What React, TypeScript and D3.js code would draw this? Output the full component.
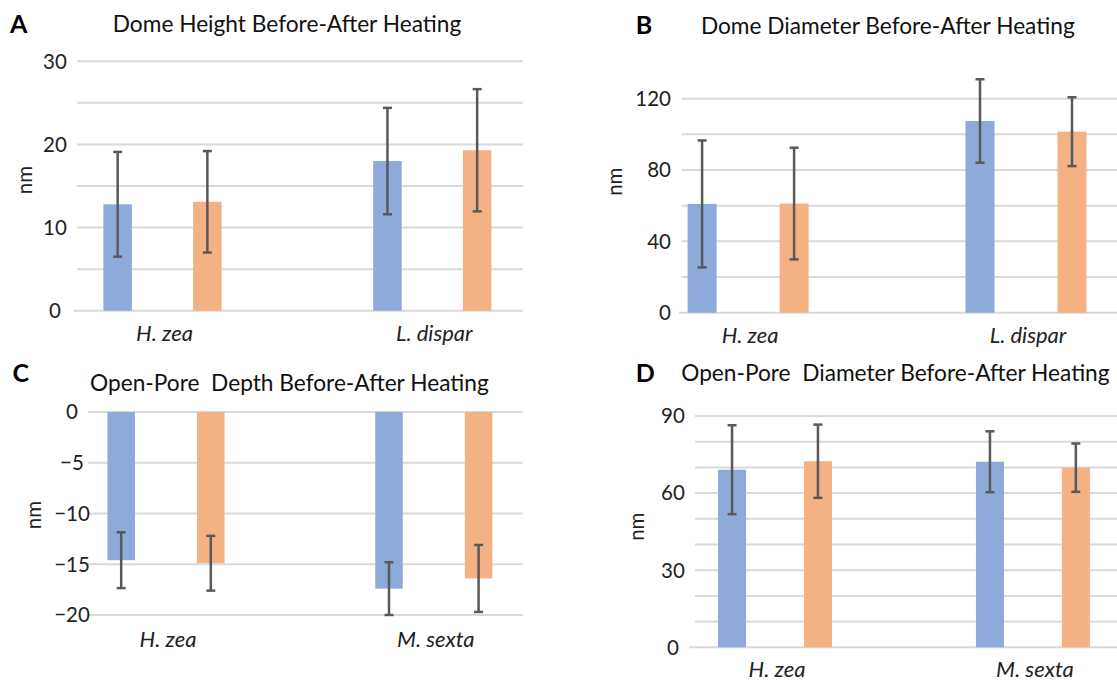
import React from 'react';
import * as d3 from 'd3';

// ---------- data ----------
const panelLetters = ['A', 'B', 'C', 'D'];
const panelTitles = [
  'Dome Height Before-After Heating',
  'Dome Diameter Before-After Heating',
  'Open-Pore\u00a0 Depth Before-After Heating',
  'Open-Pore\u00a0 Diameter Before-After Heating',
];
const categoriesDome = ['H. zea', 'L. dispar'];
const categoriesPore = ['H. zea', 'M. sexta'];
const seriesNames = ['Before', 'After'];
const yAxisLabel = 'nm';

const domeHeightBefore = [12.8, 18.0];
const domeHeightAfter = [13.1, 19.3];
const domeHeightBeforeErr = [6.3, 6.4];
const domeHeightAfterErr = [6.1, 7.35];

const domeDiameterBefore = [61.0, 107.5];
const domeDiameterAfter = [61.2, 101.5];
const domeDiameterBeforeErr = [35.6, 23.4];
const domeDiameterAfterErr = [31.3, 19.3];

const poreDepthBefore = [-14.6, -17.4];
const poreDepthAfter = [-14.9, -16.4];
const poreDepthBeforeErr = [2.75, 2.6];
const poreDepthAfterErr = [2.7, 3.3];

const poreDiameterBefore = [69.1, 72.2];
const poreDiameterAfter = [72.4, 69.9];
const poreDiameterBeforeErr = [17.3, 11.85];
const poreDiameterAfterErr = [14.25, 9.4];

const ticksA = [0, 10, 20, 30];
const ticksB = [0, 40, 80, 120];
const ticksC = [-20, -15, -10, -5, 0];
const ticksD = [0, 30, 60, 90];

// ---------- styling / layout ----------
const COLORS = ['#8eaadb', '#f4b183'];
const GRID = '#d9d9d9';
const ERR = '#595959';
const FONT = 'Lato, "Open Sans", sans-serif';

type Layout = {
  domain: [number, number];
  yRange: [number, number];
  gridStep: number;
  labelTicks: number[];
  gridX: [number, number];
  zeroX0: number;
  firstCenter: number;
  step: number;
  inner: number;
  barW: number;
  tickX: number;
  tickAnchor: 'middle' | 'end';
  titleX: number;
  titleY: number;
  letterX: number;
  letterY: number;
  nmX: number;
  nmY: number;
  catY: number;
};

const panels = [
  {
    cats: categoriesDome,
    values: [domeHeightBefore, domeHeightAfter],
    errs: [domeHeightBeforeErr, domeHeightAfterErr],
    layout: {
      domain: [0, 30], yRange: [310.7, 61.3], gridStep: 5, labelTicks: ticksA,
      gridX: [77, 523], zeroX0: 74, firstCenter: 162.5, step: 269.8, inner: 89.7, barW: 28.5,
      tickX: 55, tickAnchor: 'middle', titleX: 287, titleY: 24, letterX: 10, letterY: 24,
      nmX: 25, nmY: 180, catY: 333,
    } as Layout,
  },
  {
    cats: categoriesDome,
    values: [domeDiameterBefore, domeDiameterAfter],
    errs: [domeDiameterBeforeErr, domeDiameterAfterErr],
    layout: {
      domain: [0, 120], yRange: [312.7, 98.7], gridStep: 20, labelTicks: ticksB,
      gridX: [681.5, 1117], zeroX0: 679, firstCenter: 748.1, step: 277.9, inner: 92, barW: 29,
      tickX: 671, tickAnchor: 'end', titleX: 887.8, titleY: 26, letterX: 635.7, letterY: 24.5,
      nmX: 615, nmY: 181.7, catY: 335,
    } as Layout,
  },
  {
    cats: categoriesPore,
    values: [poreDepthBefore, poreDepthAfter],
    errs: [poreDepthBeforeErr, poreDepthAfterErr],
    layout: {
      domain: [-20, 0], yRange: [615, 412], gridStep: 5, labelTicks: ticksC,
      gridX: [88, 522.6], zeroX0: 88, firstCenter: 166, step: 267.8, inner: 89.6, barW: 27.5,
      tickX: 72, tickAnchor: 'middle', titleX: 289.4, titleY: 382.5, letterX: 12.5, letterY: 373.3,
      nmX: 34, nmY: 515, catY: 639.5,
    } as Layout,
  },
  {
    cats: categoriesPore,
    values: [poreDiameterBefore, poreDiameterAfter],
    errs: [poreDiameterBeforeErr, poreDiameterAfterErr],
    layout: {
      domain: [0, 90], yRange: [647.3, 416], gridStep: 10, labelTicks: ticksD,
      gridX: [695, 1117], zeroX0: 689, firstCenter: 775, step: 257.9, inner: 85.9, barW: 28,
      tickX: 673, tickAnchor: 'middle', titleX: 895.4, titleY: 372.7, letterX: 635.7, letterY: 373,
      nmX: 636.4, nmY: 526.7, catY: 669,
    } as Layout,
  },
];

function fmt(v: number) {
  return v < 0 ? '\u2212' + Math.abs(v) : String(v);
}

function Panel({ idx }: { idx: number }) {
  const p = panels[idx];
  const L = p.layout;
  const y = d3.scaleLinear().domain(L.domain).range(L.yRange);
  const x = d3
    .scaleBand<string>()
    .domain(p.cats)
    .range([L.firstCenter - L.step / 2, L.firstCenter - L.step / 2 + L.step * p.cats.length])
    .padding(0);
  const xs = d3.scalePoint<string>().domain(seriesNames).range([-L.inner / 2, L.inner / 2]);
  const gridVals = d3.range(L.domain[0], L.domain[1] + 0.001, L.gridStep);
  const zero = y(0);
  const capW = 9;

  return (
    <g>
      {gridVals.map((v) => (
        <line
          key={'g' + v}
          x1={v === 0 ? L.zeroX0 : L.gridX[0]}
          x2={L.gridX[1]}
          y1={y(v)}
          y2={y(v)}
          stroke={GRID}
          strokeWidth={2}
        />
      ))}
      {L.labelTicks.map((v) => (
        <text
          key={'t' + v}
          x={L.tickX}
          y={y(v)}
          dy="0.36em"
          textAnchor={L.tickAnchor}
          fontFamily={FONT}
          fontSize={20.5}
          fill="#222"
        >
          {fmt(v)}
        </text>
      ))}
      {p.cats.map((c, ci) =>
        seriesNames.map((s, si) => {
          const cx = (x(c) as number) + x.bandwidth() / 2 + (xs(s) as number);
          const v = p.values[si][ci];
          const e = p.errs[si][ci];
          const top = Math.min(y(v), zero);
          const h = Math.abs(y(v) - zero);
          return (
            <g key={c + s}>
              <rect x={cx - L.barW / 2} y={top} width={L.barW} height={h} fill={COLORS[si]} />
              <line x1={cx} x2={cx} y1={y(v + e)} y2={y(v - e)} stroke={ERR} strokeWidth={2.5} />
              <line x1={cx - capW / 2} x2={cx + capW / 2} y1={y(v + e)} y2={y(v + e)} stroke={ERR} strokeWidth={2.5} />
              <line x1={cx - capW / 2} x2={cx + capW / 2} y1={y(v - e)} y2={y(v - e)} stroke={ERR} strokeWidth={2.5} />
            </g>
          );
        })
      )}
      {p.cats.map((c) => (
        <text
          key={'c' + c}
          x={(x(c) as number) + x.bandwidth() / 2 + 2}
          y={L.catY}
          dy="0.36em"
          textAnchor="middle"
          fontFamily={FONT}
          fontStyle="italic"
          fontSize={22}
          fill="#222"
        >
          {c}
        </text>
      ))}
      <text
        x={L.titleX}
        y={L.titleY}
        dy="0.36em"
        textAnchor="middle"
        fontFamily={FONT}
        fontSize={22.7}
        fill="#111"
      >
        {panelTitles[idx]}
      </text>
      <text
        x={L.letterX}
        y={L.letterY}
        dy="0.36em"
        textAnchor="start"
        fontFamily={FONT}
        fontWeight="bold"
        fontSize={25}
        fill="#000"
      >
        {panelLetters[idx]}
      </text>
      <text
        transform={`translate(${L.nmX},${L.nmY}) rotate(-90)`}
        dy="0.36em"
        textAnchor="middle"
        fontFamily={FONT}
        fontSize={20.5}
        fill="#222"
      >
        {yAxisLabel}
      </text>
    </g>
  );
}

export default function App() {
  return (
    <svg
      width={1117}
      height={682}
      viewBox="0 0 1117 682"
      style={{ position: 'absolute', left: 0, top: 0, background: '#fff' }}
    >
      <rect width={1117} height={682} fill="#fff" />
      {panels.map((_, i) => (
        <Panel key={i} idx={i} />
      ))}
    </svg>
  );
}
